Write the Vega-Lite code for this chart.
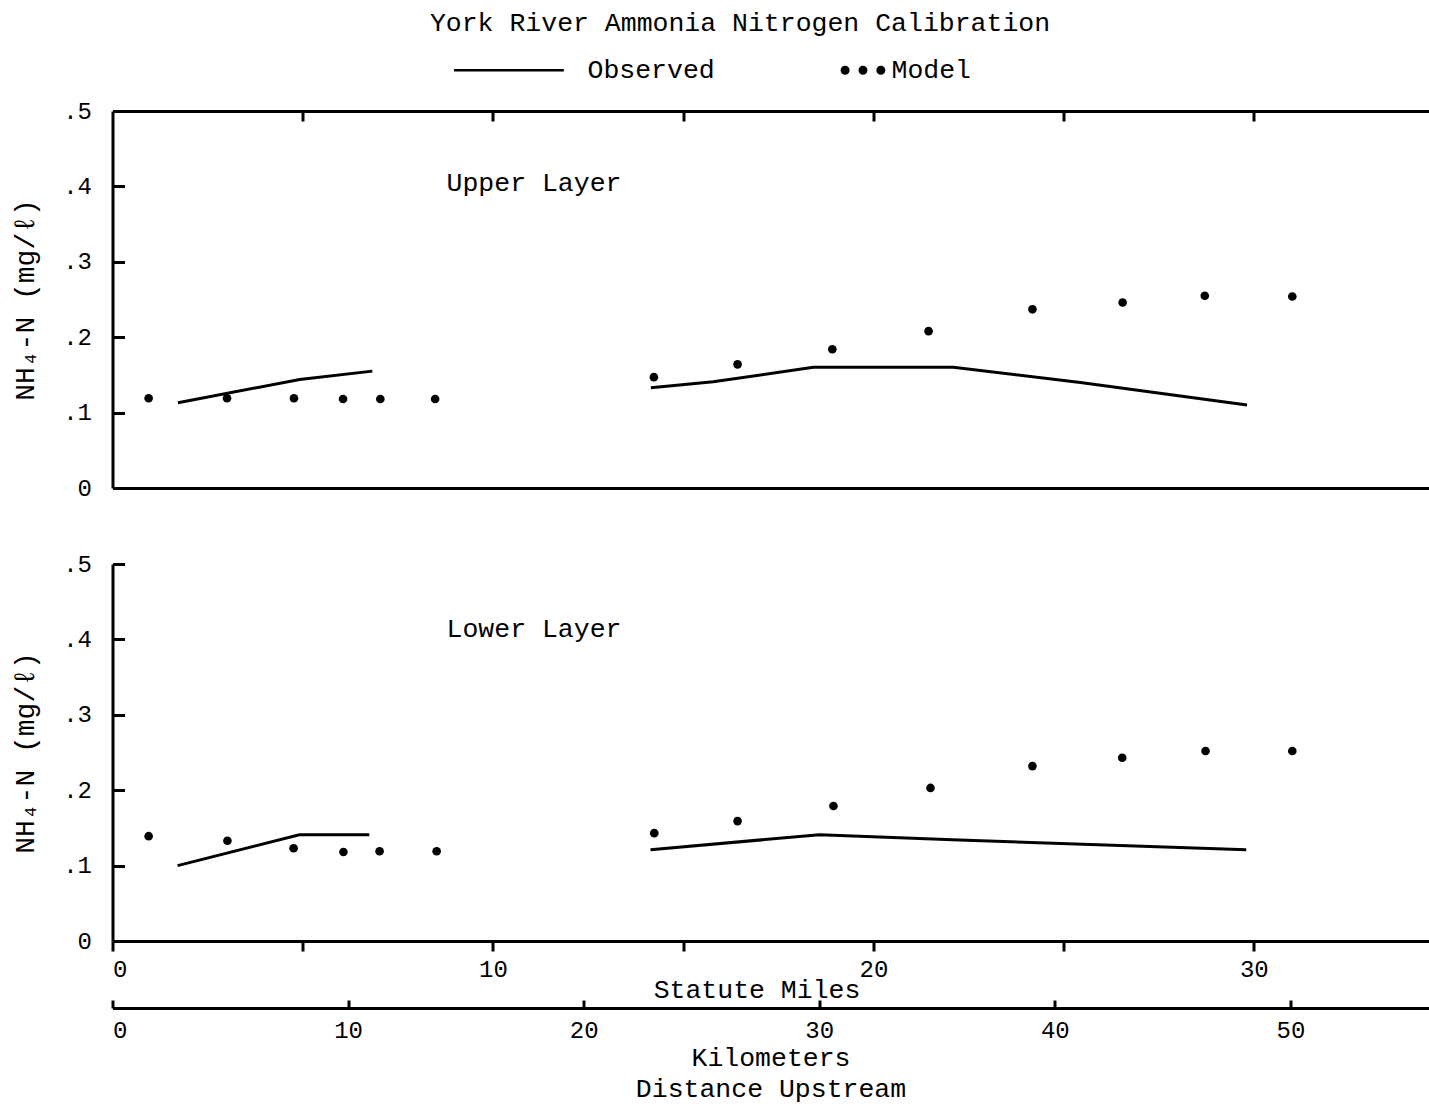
{
  "$schema": "https://vega.github.io/schema/vega-lite/v6.json",
  "padding": {"left": 11.5, "top": 9, "right": 0, "bottom": 0},
  "background": "white",
  "title": {"text": "York River Ammonia Nitrogen Calibration", "font": "Liberation Mono", "fontSize": 26.5, "fontWeight": "normal", "color": "black", "anchor": "middle", "offset": 22, "dx": 20},
  "bounds": "flush",
  "spacing": 76,
  "resolve": {"scale": {"color": "shared"}, "legend": {"color": "shared"}},
  "data": {"values": [
    {"layer": "Upper", "series": "Observed", "seg": 1, "mile": 1.72, "nh4": 0.113},
    {"layer": "Upper", "series": "Observed", "seg": 1, "mile": 4.92, "nh4": 0.144},
    {"layer": "Upper", "series": "Observed", "seg": 1, "mile": 6.83, "nh4": 0.155},
    {"layer": "Upper", "series": "Observed", "seg": 2, "mile": 14.15, "nh4": 0.133},
    {"layer": "Upper", "series": "Observed", "seg": 2, "mile": 15.79, "nh4": 0.141},
    {"layer": "Upper", "series": "Observed", "seg": 2, "mile": 18.42, "nh4": 0.160},
    {"layer": "Upper", "series": "Observed", "seg": 2, "mile": 22.10, "nh4": 0.160},
    {"layer": "Upper", "series": "Observed", "seg": 2, "mile": 25.44, "nh4": 0.140},
    {"layer": "Upper", "series": "Observed", "seg": 2, "mile": 29.82, "nh4": 0.110},
    {"layer": "Upper", "series": "Model", "seg": 3, "mile": 0.95, "nh4": 0.119},
    {"layer": "Upper", "series": "Model", "seg": 3, "mile": 3.01, "nh4": 0.119},
    {"layer": "Upper", "series": "Model", "seg": 3, "mile": 4.77, "nh4": 0.119},
    {"layer": "Upper", "series": "Model", "seg": 3, "mile": 6.06, "nh4": 0.118},
    {"layer": "Upper", "series": "Model", "seg": 3, "mile": 7.04, "nh4": 0.118},
    {"layer": "Upper", "series": "Model", "seg": 3, "mile": 8.48, "nh4": 0.118},
    {"layer": "Upper", "series": "Model", "seg": 3, "mile": 14.23, "nh4": 0.147},
    {"layer": "Upper", "series": "Model", "seg": 3, "mile": 16.43, "nh4": 0.164},
    {"layer": "Upper", "series": "Model", "seg": 3, "mile": 18.92, "nh4": 0.184},
    {"layer": "Upper", "series": "Model", "seg": 3, "mile": 21.45, "nh4": 0.208},
    {"layer": "Upper", "series": "Model", "seg": 3, "mile": 24.18, "nh4": 0.237},
    {"layer": "Upper", "series": "Model", "seg": 3, "mile": 26.55, "nh4": 0.246},
    {"layer": "Upper", "series": "Model", "seg": 3, "mile": 28.71, "nh4": 0.255},
    {"layer": "Upper", "series": "Model", "seg": 3, "mile": 31.01, "nh4": 0.254},
    {"layer": "Lower", "series": "Observed", "seg": 1, "mile": 1.71, "nh4": 0.100},
    {"layer": "Lower", "series": "Observed", "seg": 1, "mile": 4.91, "nh4": 0.141},
    {"layer": "Lower", "series": "Observed", "seg": 1, "mile": 6.75, "nh4": 0.141},
    {"layer": "Lower", "series": "Observed", "seg": 2, "mile": 14.14, "nh4": 0.121},
    {"layer": "Lower", "series": "Observed", "seg": 2, "mile": 18.58, "nh4": 0.141},
    {"layer": "Lower", "series": "Observed", "seg": 2, "mile": 22.26, "nh4": 0.134},
    {"layer": "Lower", "series": "Observed", "seg": 2, "mile": 29.80, "nh4": 0.121},
    {"layer": "Lower", "series": "Model", "seg": 3, "mile": 0.95, "nh4": 0.139},
    {"layer": "Lower", "series": "Model", "seg": 3, "mile": 3.02, "nh4": 0.133},
    {"layer": "Lower", "series": "Model", "seg": 3, "mile": 4.76, "nh4": 0.123},
    {"layer": "Lower", "series": "Model", "seg": 3, "mile": 6.07, "nh4": 0.118},
    {"layer": "Lower", "series": "Model", "seg": 3, "mile": 7.02, "nh4": 0.119},
    {"layer": "Lower", "series": "Model", "seg": 3, "mile": 8.52, "nh4": 0.119},
    {"layer": "Lower", "series": "Model", "seg": 3, "mile": 14.24, "nh4": 0.143},
    {"layer": "Lower", "series": "Model", "seg": 3, "mile": 16.43, "nh4": 0.159},
    {"layer": "Lower", "series": "Model", "seg": 3, "mile": 18.95, "nh4": 0.179},
    {"layer": "Lower", "series": "Model", "seg": 3, "mile": 21.50, "nh4": 0.203},
    {"layer": "Lower", "series": "Model", "seg": 3, "mile": 24.18, "nh4": 0.232},
    {"layer": "Lower", "series": "Model", "seg": 3, "mile": 26.54, "nh4": 0.243},
    {"layer": "Lower", "series": "Model", "seg": 3, "mile": 28.73, "nh4": 0.252},
    {"layer": "Lower", "series": "Model", "seg": 3, "mile": 31.01, "nh4": 0.252}
  ]},
  "vconcat": [
    {
      "width": 1316,
      "height": 377,
      "resolve": {"axis": {"x": "independent"}},
      "layer": [
        {
          "transform": [{"filter": "datum.layer === 'Upper' && datum.series === 'Observed'"}],
          "mark": {"type": "line", "strokeWidth": 3},
          "encoding": {
            "x": {"field": "mile", "type": "quantitative", "scale": {"domain": [0, 34.59], "nice": false, "zero": false},
                  "axis": {"orient": "bottom", "ticks": false, "labels": false, "title": null, "domainWidth": 3}},
            "y": {"field": "nh4", "type": "quantitative", "scale": {"domain": [0, 0.5], "nice": false},
                  "axis": {"orient": "left", "values": [0, 0.1, 0.2, 0.3, 0.4, 0.5], "tickSize": -12, "tickWidth": 3, "domainWidth": 3, "labelPadding": 33, "labelFontSize": 24,
                           "labelExpr": "datum.value == 0 ? '0' : replace(format(datum.value, '.1f'), '0.', '.')",
                           "title": "NH₄-N (mg/ℓ)", "titleFontSize": 28, "minExtent": 50, "maxExtent": 50, "titlePadding": 23}},
            "detail": {"field": "seg"},
            "color": {"field": "series", "type": "nominal", "scale": {"domain": ["Observed", "Model"], "range": ["black", "black"]},
                      "legend": {"orient": "none", "legendX": 340, "legendY": -53, "direction": "horizontal", "title": null,
                                 "labelFont": "Liberation Mono", "labelFontSize": 26.5, "labelColor": "black",
                                 "symbolSize": 16900, "clipHeight": 24, "labelOffset": 2, "columnPadding": 41, "symbolStrokeWidth": 2.5,
                                 "encode": {"symbols": {"update": {
                                   "shape": {"signal": "datum.value === 'Model' ? 'M0.39,0A0.05,0.05,0,1,0,0.29,0A0.05,0.05,0,1,0,0.39,0M0.665,0A0.05,0.05,0,1,0,0.565,0A0.05,0.05,0,1,0,0.665,0M0.94,0A0.05,0.05,0,1,0,0.84,0A0.05,0.05,0,1,0,0.94,0' : 'M-1,0L0.69,0'"},
                                   "fill": {"signal": "datum.value === 'Model' ? 'black' : 'transparent'"},
                                   "stroke": {"signal": "datum.value === 'Model' ? 'transparent' : 'black'"},
                                   "strokeWidth": {"value": 2.5},
                                   "size": {"value": 16900},
                                   "opacity": {"value": 1}
                                 }}}}}
          }
        },
        {
          "transform": [{"filter": "datum.layer === 'Upper' && datum.series === 'Model'"}],
          "mark": {"type": "point", "filled": true, "size": 75, "opacity": 1},
          "encoding": {
            "x": {"field": "mile", "type": "quantitative",
                  "axis": {"orient": "top", "values": [5, 10, 15, 20, 25, 30], "tickSize": -10, "tickWidth": 3, "domainWidth": 3, "labels": false, "title": null}},
            "y": {"field": "nh4", "type": "quantitative"},
            "color": {"field": "series", "type": "nominal"}
          }
        },
        {
          "data": {"values": [{"label": "Upper Layer"}]},
          "mark": {"type": "text", "font": "Liberation Mono", "fontSize": 26.5, "align": "left", "baseline": "middle", "color": "black"},
          "encoding": {
            "x": {"datum": 8.78, "type": "quantitative", "axis": null},
            "y": {"datum": 0.405, "type": "quantitative"},
            "text": {"field": "label"}
          }
        }
      ]
    },
    {
      "width": 1316,
      "height": 377,
      "resolve": {"scale": {"x": "independent"}, "axis": {"x": "independent"}},
      "layer": [
        {
          "layer": [
            {
              "transform": [{"filter": "datum.layer === 'Lower' && datum.series === 'Observed'"}],
              "mark": {"type": "line", "strokeWidth": 3},
              "encoding": {
                "x": {"field": "mile", "type": "quantitative", "scale": {"domain": [0, 34.59], "nice": false, "zero": false},
                      "axis": {"orient": "bottom", "values": [0, 5, 10, 15, 20, 25, 30], "tickSize": 10, "tickWidth": 3, "domainWidth": 3, "labelPadding": 6, "labelFontSize": 24,
                               "labelExpr": "datum.value % 10 == 0 ? datum.label : ''",
                               "title": "Statute Miles", "titleFontSize": 26.5, "titleX": 644, "minExtent": 32, "maxExtent": 32, "titlePadding": 3.5}},
                "y": {"field": "nh4", "type": "quantitative", "scale": {"domain": [0, 0.5], "nice": false},
                      "axis": {"orient": "left", "values": [0, 0.1, 0.2, 0.3, 0.4, 0.5], "tickSize": -12, "tickWidth": 3, "domainWidth": 3, "labelPadding": 33, "labelFontSize": 24,
                               "labelExpr": "datum.value == 0 ? '0' : replace(format(datum.value, '.1f'), '0.', '.')",
                               "title": "NH₄-N (mg/ℓ)", "titleFontSize": 28, "minExtent": 50, "maxExtent": 50, "titlePadding": 23}},
                "detail": {"field": "seg"},
                "color": {"field": "series", "type": "nominal"}
              }
            },
            {
              "transform": [{"filter": "datum.layer === 'Lower' && datum.series === 'Model'"}],
              "mark": {"type": "point", "filled": true, "size": 75, "opacity": 1},
              "encoding": {
                "x": {"field": "mile", "type": "quantitative"},
                "y": {"field": "nh4", "type": "quantitative"},
                "color": {"field": "series", "type": "nominal"}
              }
            },
            {
              "data": {"values": [{"label": "Lower Layer"}]},
              "mark": {"type": "text", "font": "Liberation Mono", "fontSize": 26.5, "align": "left", "baseline": "middle", "color": "black"},
              "encoding": {
                "x": {"datum": 8.78, "type": "quantitative"},
                "y": {"datum": 0.414, "type": "quantitative"},
                "text": {"field": "label"}
              }
            }
          ]
        },
        {
          "data": {"values": []},
          "mark": {"type": "point", "opacity": 0},
          "encoding": {
            "x": {"field": "km", "type": "quantitative", "scale": {"domain": [0, 55.86], "nice": false, "zero": false},
                  "axis": {"orient": "bottom", "offset": 67, "values": [0, 10, 20, 30, 40, 50], "tickSize": -8, "tickWidth": 3, "domainWidth": 3, "labelPadding": 18, "labelFontSize": 24,
                           "title": ["Kilometers", "Distance Upstream"], "titleFontSize": 26.5, "titleLineHeight": 31, "minExtent": 34, "maxExtent": 34, "titlePadding": 2}}
          }
        }
      ]
    }
  ],
  "config": {
    "view": {"stroke": null},
    "font": "Liberation Mono",
    "axis": {"grid": false, "domainColor": "black", "tickColor": "black", "labelColor": "black", "titleColor": "black",
             "labelFont": "Liberation Mono", "titleFont": "Liberation Mono", "titleFontWeight": "normal"}
  }
}
